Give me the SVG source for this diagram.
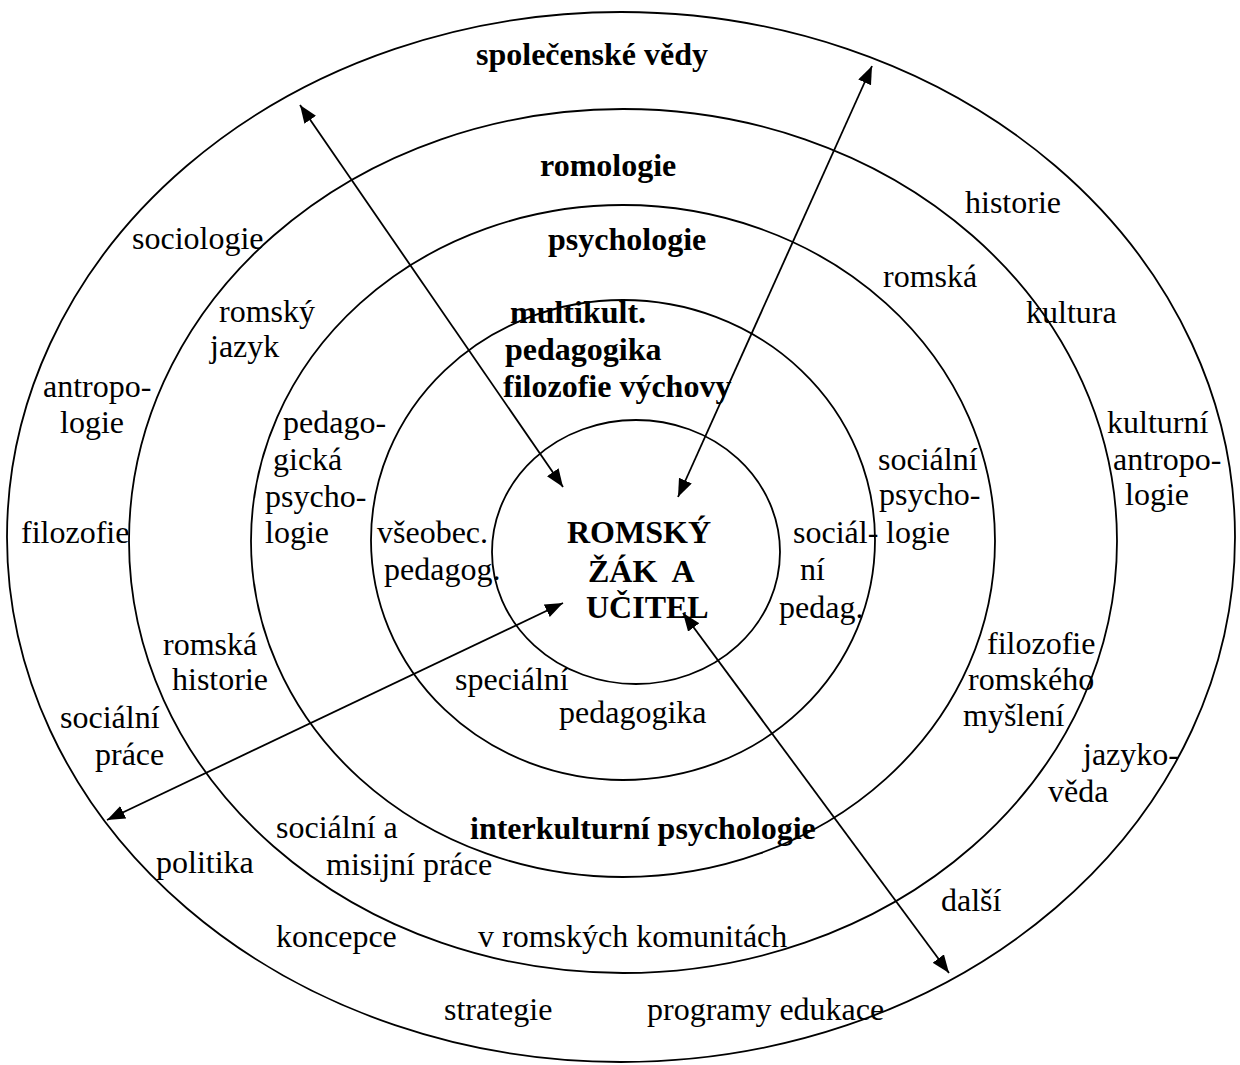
<svg xmlns="http://www.w3.org/2000/svg" width="1240" height="1065" viewBox="0 0 1240 1065">
<style>
.ring{fill:none;stroke:#000;stroke-width:1.8}
.con{fill:none;stroke:#000;stroke-width:1.8}
text{font-family:"Liberation Serif","Times New Roman",serif;font-size:32px;fill:#000}
.b{font-weight:bold}
</style>
<defs>
<marker id="ah" markerUnits="userSpaceOnUse" markerWidth="20" markerHeight="16" refX="18" refY="7" orient="auto-start-reverse" viewBox="0 0 20 16">
<path d="M0,0 L18,7 L0,14 z" fill="#000"/>
</marker>
</defs>
<rect width="1240" height="1065" fill="#fff"/>
<g id="ring-spolecenske-vedy">
<ellipse class="ring" cx="621" cy="537" rx="614" ry="525"/>
<text class="b" x="476" y="65">společenské vědy</text>
<text x="132" y="249">sociologie</text>
<text x="43" y="397">antropo-</text>
<text x="60" y="433">logie</text>
<text x="21" y="543">filozofie</text>
<text x="60" y="728">sociální</text>
<text x="95" y="765">práce</text>
<text x="156" y="873">politika</text>
<text x="276" y="947">koncepce</text>
<text x="444" y="1020">strategie</text>
<text x="647" y="1020">programy edukace</text>
<text x="941" y="911">další</text>
<text x="1083" y="765">jazyko-</text>
<text x="1048" y="802">věda</text>
<text x="1107" y="433">kulturní</text>
<text x="1113" y="470">antropo-</text>
<text x="1125" y="505">logie</text>
<text x="965" y="213">historie</text>
</g>
<g id="ring-romologie">
<ellipse class="ring" cx="623" cy="541" rx="494" ry="432"/>
<text class="b" x="540" y="176">romologie</text>
<text x="219" y="322">romský</text>
<text x="210" y="357">jazyk</text>
<text x="163" y="655">romská</text>
<text x="172" y="690">historie</text>
<text x="276" y="838">sociální a</text>
<text x="326" y="875">misijní práce</text>
<text x="478" y="947">v romských komunitách</text>
<text x="968" y="690">romského</text>
<text x="987" y="654">filozofie</text>
<text x="963" y="726">myšlení</text>
<text x="883" y="287">romská</text>
<text x="1026" y="323">kultura</text>
</g>
<g id="ring-psychologie">
<ellipse class="ring" cx="623" cy="541" rx="372" ry="336"/>
<text class="b" x="548" y="250">psychologie</text>
<text x="283" y="433">pedago-</text>
<text x="273" y="470">gická</text>
<text x="265" y="507">psycho-</text>
<text x="265" y="543">logie</text>
<text x="878" y="470">sociální</text>
<text x="879" y="505">psycho-</text>
<text x="886" y="543">logie</text>
<text class="b" x="470" y="839">interkulturní psychologie</text>
</g>
<g id="ring-pedagogika">
<ellipse class="ring" cx="623" cy="540" rx="252" ry="240"/>
<text class="b" x="510" y="323">multikult.</text>
<text class="b" x="505" y="360">pedagogika</text>
<text class="b" x="503" y="397">filozofie výchovy</text>
<text x="377" y="543">všeobec.</text>
<text x="384" y="580">pedagog.</text>
<text x="793" y="543">sociál-</text>
<text x="800" y="580">ní</text>
<text x="779" y="618">pedag.</text>
<text x="455" y="690">speciální</text>
<text x="559" y="723">pedagogika</text>
</g>
<g id="center">
<ellipse class="ring" cx="636" cy="552" rx="144" ry="132"/>
<text class="b" x="567" y="543">ROMSKÝ</text>
<text class="b" x="588" y="582" style="white-space:pre">ŽÁK  A</text>
<text class="b" x="586" y="618">UČITEL</text>
</g>
<g id="connectors">
<line class="con" x1="300" y1="105" x2="563" y2="487" marker-start="url(#ah)" marker-end="url(#ah)"/>
<line class="con" x1="872" y1="66" x2="678" y2="497" marker-start="url(#ah)" marker-end="url(#ah)"/>
<line class="con" x1="563" y1="603" x2="107" y2="820" marker-start="url(#ah)" marker-end="url(#ah)"/>
<line class="con" x1="683" y1="613" x2="949" y2="973" marker-start="url(#ah)" marker-end="url(#ah)"/>
</g>
</svg>
